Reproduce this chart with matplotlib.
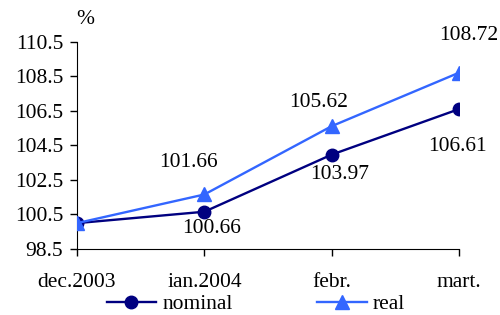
import matplotlib
matplotlib.use("Agg")
import matplotlib.pyplot as plt

categories = ["dec.2003", "ian.2004", "febr.", "mart."]
nominal = [100.0, 100.66, 103.97, 106.61]
real = [100.0, 101.66, 105.62, 108.72]
yticks = [98.5, 100.5, 102.5, 104.5, 106.5, 108.5, 110.5]

plt.rcParams['font.family'] = ['Liberation Serif', 'DejaVu Serif']
plt.rcParams['font.size'] = 15.5

fs = 15.5
fig = plt.figure(figsize=(5, 3.15), dpi=100)
ax = fig.add_axes([77/500, 1-249/315, (459-77)/500, (249-42)/315])

x = list(range(len(categories)))
c_nom = "#000080"
c_real = "#3366FF"
ax.plot(x, nominal, color=c_nom, lw=1.7, marker="o", ms=9, label="nominal", zorder=3)
ax.plot(x, real, color=c_real, lw=1.7, marker="^", ms=10.5, label="real", zorder=4)

ax.set_xlim(0, 3)
ax.set_ylim(98.5, 110.5)
ax.set_yticks(yticks)
ax.set_yticklabels([f"{v:.1f}" for v in yticks])
ax.set_xticks(x)
ax.set_xticklabels(categories)
ax.tick_params(axis='both', direction='out', length=5, width=1, labelsize=fs)
ax.tick_params(axis='y', pad=5)
ax.tick_params(axis='x', pad=12)
for s in ["top", "right"]:
    ax.spines[s].set_visible(False)

real_off = [None, (-16, 32), (-13, 24), (10, 37)]
nom_off = [None, (7, -17), (8, -20), (-2, -37)]
for i in range(1, 4):
    dx, dy = real_off[i]
    ax.annotate(f"{real[i]:.2f}", (x[i], real[i]), xytext=(dx, dy), textcoords="offset pixels",
                ha="center", va="center", fontsize=fs, annotation_clip=False)
    dx, dy = nom_off[i]
    ax.annotate(f"{nominal[i]:.2f}", (x[i], nominal[i]), xytext=(dx, dy), textcoords="offset pixels",
                ha="center", va="center", fontsize=fs, annotation_clip=False)

fig.text(85/500, 1-20/315, "%", ha="center", va="center", fontsize=fs)

fig.legend(loc="center", bbox_to_anchor=(256/500, 1-304/315), ncol=2, frameon=False,
           fontsize=fs, columnspacing=3.9, handlelength=2.3, handletextpad=0.3, borderaxespad=0)

fig.savefig("out.png", dpi=100)
